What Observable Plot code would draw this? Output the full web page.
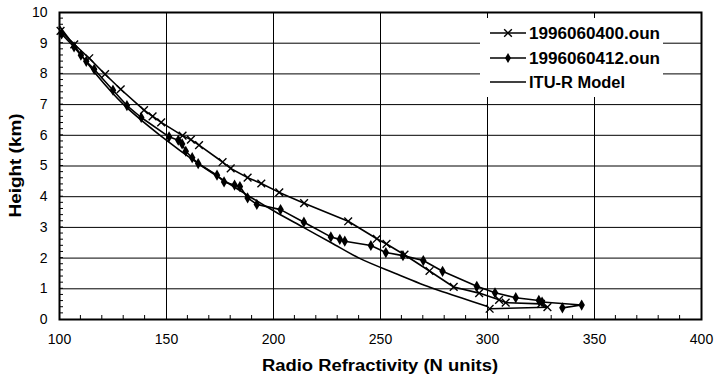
<!DOCTYPE html>
<html>
<head>
<meta charset="utf-8">
<script src="https://cdn.jsdelivr.net/npm/d3@7"></script>
<script src="https://cdn.jsdelivr.net/npm/@observablehq/plot@0.6"></script>
<style>
  html, body { margin: 0; padding: 0; background: #fff; }
  svg { display: block; font-family: "Liberation Sans", Arial, sans-serif; }
</style>
</head>
<body>
<div id="chart"></div>
<script>
// ---- Data ----
const seriesNames = ["1996060400.oun", "1996060412.oun", "ITU-R Model"];

// 1996060400.oun : refractivity N and height (km), from the ground upward
const n0400 = [301, 328, 325, 308.5, 305.4, 296.1, 284.2, 272.9, 261.2, 252.8, 248.3, 234.9, 214.3, 202.7, 194.3, 187.9, 180, 176.2, 165.2, 161.4, 157.5, 147.5, 143.5, 139.5, 128.6, 121.3, 113.9, 106.9, 100.5];
const h0400 = [0.35, 0.40, 0.51, 0.55, 0.64, 0.86, 1.06, 1.58, 2.11, 2.46, 2.63, 3.20, 3.79, 4.14, 4.43, 4.62, 4.92, 5.13, 5.68, 5.86, 5.99, 6.42, 6.62, 6.82, 7.50, 7.99, 8.51, 8.96, 9.40];

// 1996060412.oun
const n0412 = [335, 344, 325.5, 324, 313.2, 303.5, 295, 279, 270, 260.5, 252.5, 245.5, 233.3, 231, 226.8, 214.2, 203.3, 192.2, 187.9, 184.3, 181.8, 176.9, 173.6, 164.8, 162, 159, 157.3, 155.5, 151.2, 138.2, 131.5, 125, 116.2, 112.5, 110, 106.8, 101];
const h0412 = [0.38, 0.47, 0.57, 0.62, 0.71, 0.87, 1.08, 1.57, 1.92, 2.08, 2.18, 2.41, 2.55, 2.61, 2.69, 3.17, 3.58, 3.75, 3.96, 4.33, 4.38, 4.48, 4.70, 5.08, 5.27, 5.48, 5.72, 5.84, 5.95, 6.58, 6.97, 7.47, 8.15, 8.41, 8.61, 8.88, 9.30];

// ITU-R Model curve
const nItu = [300, 288, 275, 257, 240, 227, 214, 201, 189, 166.5, 147, 130, 117, 106, 100];
const hItu = [0.42, 0.70, 1.0, 1.5, 2.0, 2.5, 3.0, 3.5, 4.0, 5.0, 6.0, 7.0, 8.0, 9.0, 9.55];

// Axes
const xTicks = [100, 150, 200, 250, 300, 350, 400];
const yTicks = [0, 1, 2, 3, 4, 5, 6, 7, 8, 9, 10];
const xMinor = d3.range(110, 400, 10);
const yMinor = d3.range(0.2, 10, 0.2).map(v => +v.toFixed(1));
const xTitle = "Radio Refractivity (N units)";
const yTitle = "Height (km)";

const toRows = (ns, hs) => ns.map((n, i) => ({n, h: hs[i]}));
const d0400 = toRows(n0400, h0400);
const d0412 = toRows(n0412, h0412);
const dItu = toRows(nItu, hItu);

const W = 714, H = 378;
const mL = 59, mR = 13, mT = 12, mB = 59;
const tick = 4;

const svg = Plot.plot({
  width: W, height: H,
  marginLeft: mL, marginRight: mR, marginTop: mT, marginBottom: mB,
  style: {fontFamily: "Liberation Sans, Arial, sans-serif", color: "#000", background: "#fff"},
  x: {domain: [100, 400]},
  y: {domain: [0, 10]},
  marks: [
    Plot.gridX(xTicks.slice(1, -1), {stroke: "#000", strokeOpacity: 1, strokeWidth: 1}),
    Plot.gridY(yTicks.slice(1, -1), {stroke: "#000", strokeOpacity: 1, strokeWidth: 1}),
    Plot.axisX({ticks: xTicks, tickSize: 0, tickPadding: 15, fontSize: 14, label: null, tickFormat: d => d}),
    Plot.axisY({ticks: yTicks, tickSize: 0, tickPadding: 12, fontSize: 14, label: null, tickFormat: d => d}),
    Plot.line(dItu, {x: "n", y: "h", stroke: "#000", strokeWidth: 1.6, curve: "catmull-rom"}),
    Plot.line(d0400, {x: "n", y: "h", stroke: "#000", strokeWidth: 1.6}),
    Plot.line(d0412, {x: "n", y: "h", stroke: "#000", strokeWidth: 1.6}),
    Plot.dot(d0400, {x: "n", y: "h", symbol: "times", r: 3.6, stroke: "#000", strokeWidth: 1.4}),
    Plot.dot(d0412, {x: "n", y: "h", symbol: "diamond", r: 3.4, fill: "#000", stroke: "none"}),
    Plot.frame({stroke: "#000", strokeWidth: 2})
  ]
});

const sx = svg.scale("x"), sy = svg.scale("y");
const g = d3.select(svg).append("g").attr("text-anchor", "start");

// minor ticks (inward)
const y0 = sy.apply(0), x0 = sx.apply(100);
xMinor.filter(v => v % 50 !== 0).forEach(v => {
  g.append("line").attr("x1", sx.apply(v)).attr("x2", sx.apply(v))
    .attr("y1", y0).attr("y2", y0 - tick).attr("stroke", "#000").attr("stroke-width", 1);
});
yMinor.forEach(v => {
  g.append("line").attr("x1", x0).attr("x2", x0 + tick)
    .attr("y1", sy.apply(v)).attr("y2", sy.apply(v)).attr("stroke", "#000").attr("stroke-width", 1);
});

// axis titles (slightly wide lettering, like the reference)
g.append("text").attr("x", (mL + W - mR) / 2).attr("y", 371)
  .attr("text-anchor", "middle").attr("font-weight", "bold").attr("font-size", 16)
  .attr("textLength", 236).attr("lengthAdjust", "spacingAndGlyphs").text(xTitle);
g.append("text").attr("transform", `translate(21,${(mT + H - mB) / 2}) rotate(-90)`)
  .attr("text-anchor", "middle").attr("font-weight", "bold").attr("font-size", 16)
  .attr("textLength", 104).attr("lengthAdjust", "spacingAndGlyphs").text(yTitle);

// legend
const lx = 480, ly = 18, lw = 183, lh = 79;
g.append("rect").attr("x", lx).attr("y", ly).attr("width", lw).attr("height", lh).attr("fill", "#fff");
const rows = [33, 58, 82];
const textLens = [131, 131, 96];
const sym = d3.symbol();
seriesNames.forEach((name, i) => {
  const yy = rows[i];
  g.append("line").attr("x1", 490).attr("x2", 526).attr("y1", yy).attr("y2", yy)
    .attr("stroke", "#000").attr("stroke-width", 1.6);
  if (i === 0) {
    g.append("path").attr("d", sym.type(d3.symbolTimes).size(40)()).attr("transform", `translate(508,${yy})`)
      .attr("stroke", "#000").attr("stroke-width", 1.4).attr("fill", "none");
  } else if (i === 1) {
    g.append("path").attr("d", sym.type(d3.symbolDiamond).size(30)()).attr("transform", `translate(508,${yy})`)
      .attr("fill", "#000");
  }
  g.append("text").attr("x", 529).attr("y", yy + 5.5).attr("text-anchor", "start")
    .attr("font-weight", "bold").attr("font-size", 16)
    .attr("textLength", textLens[i]).attr("lengthAdjust", "spacingAndGlyphs").text(name);
});

document.getElementById("chart").appendChild(svg);
</script>
</body>
</html>
